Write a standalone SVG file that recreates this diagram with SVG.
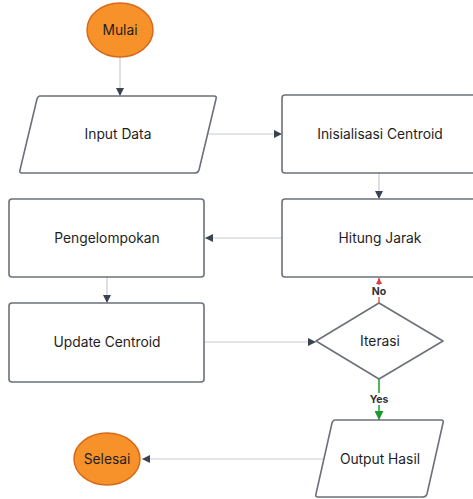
<svg xmlns="http://www.w3.org/2000/svg" width="473" height="499" viewBox="0 0 473 499">
<style>
.node{fill:#ffffff;stroke:#6b7079;stroke-width:1.6;}
.term{fill:#f7922b;stroke:#d8691a;stroke-width:1.5;}
.t{font-family:Inter,"Noto Sans","Liberation Sans",sans-serif;font-size:13.8px;fill:#1e1e1e;text-anchor:middle;dominant-baseline:central;}
.edge{fill:none;stroke:#c8ccd2;stroke-width:1.2;}
.lbl{font-family:Inter,"Noto Sans","Liberation Sans",sans-serif;font-size:10.5px;font-weight:bold;fill:#333;text-anchor:middle;dominant-baseline:central;}
</style>
<defs>
<marker id="ah" viewBox="0 0 10 10" refX="10" refY="5" markerWidth="8" markerHeight="8" markerUnits="userSpaceOnUse" orient="auto"><path d="M0,0 L10,5 L0,10 z" fill="#3b4250"/></marker>
<marker id="ahr" viewBox="0 0 10 10" refX="10" refY="5" markerWidth="6" markerHeight="6" markerUnits="userSpaceOnUse" orient="auto"><path d="M0,0 L10,5 L0,10 z" fill="#e53935"/></marker>
<marker id="ahg" viewBox="0 0 10 10" refX="10" refY="5" markerWidth="9" markerHeight="9" markerUnits="userSpaceOnUse" orient="auto"><path d="M0,0 L10,5 L0,10 z" fill="#1a9a2a"/></marker>
</defs>
<g id="connectors">
<path class="edge" d="M120,57 L120,96" marker-end="url(#ah)"/>
<path class="edge" d="M207,134 L282,134" marker-end="url(#ah)"/>
<path class="edge" d="M379,173 L379,199" marker-end="url(#ah)"/>
<path class="edge" d="M282,238 L205,238" marker-end="url(#ah)"/>
<path class="edge" d="M107,277 L107,303" marker-end="url(#ah)"/>
<path class="edge" d="M204,342 L316,342" marker-end="url(#ah)"/>
<path d="M379,303 L379,278" fill="none" stroke="#e53935" stroke-width="1.2" marker-end="url(#ahr)"/>
<rect x="369" y="285" width="20" height="12" fill="#ffffff"/>
<text class="lbl" x="379" y="291">No</text>
<path d="M379,379 L379,420" fill="none" stroke="#1a9a2a" stroke-width="1.5" marker-end="url(#ahg)"/>
<rect x="366" y="393" width="26" height="12" fill="#ffffff"/>
<text class="lbl" x="379" y="399">Yes</text>
<path class="edge" d="M324,459 L142,459" marker-end="url(#ah)"/>
</g>
<g id="mulai">
<ellipse class="term" cx="120" cy="30" rx="33" ry="27"/>
<text class="t" x="120" y="30">Mulai</text>
</g>
<g id="input-data">
<path class="node" d="M40,96 L214,96 Q217,96 216,99 L199,170 Q198,173 195,173 L22,173 Q19,173 20,170 L37,99 Q38,96 40,96 Z"/>
<text class="t" x="118" y="134">Input Data</text>
</g>
<g id="inisialisasi-centroid">
<rect class="node" x="282" y="95" width="196" height="78" rx="3"/>
<text class="t" x="380" y="134">Inisialisasi Centroid</text>
</g>
<g id="hitung-jarak">
<rect class="node" x="282" y="199" width="196" height="78" rx="3"/>
<text class="t" x="380" y="238">Hitung Jarak</text>
</g>
<g id="pengelompokan">
<rect class="node" x="9" y="199" width="195" height="78" rx="3"/>
<text class="t" x="107" y="238">Pengelompokan</text>
</g>
<g id="update-centroid">
<rect class="node" x="9" y="303" width="195" height="79" rx="3"/>
<text class="t" x="107" y="342">Update Centroid</text>
</g>
<g id="iterasi">
<path class="node" d="M379,303 L443,341 L379,379 L316,341 Z" stroke-linejoin="round"/>
<text class="t" x="380" y="341">Iterasi</text>
</g>
<g id="output-hasil">
<path class="node" d="M335,420 L441,420 Q444,420 443,423 L427,494 Q426,497 423,497 L318,497 Q315,497 316,494 L332,423 Q333,420 335,420 Z"/>
<text class="t" x="380" y="459">Output Hasil</text>
</g>
<g id="selesai">
<ellipse class="term" cx="107" cy="459" rx="33" ry="26"/>
<text class="t" x="107" y="459">Selesai</text>
</g>
</svg>
